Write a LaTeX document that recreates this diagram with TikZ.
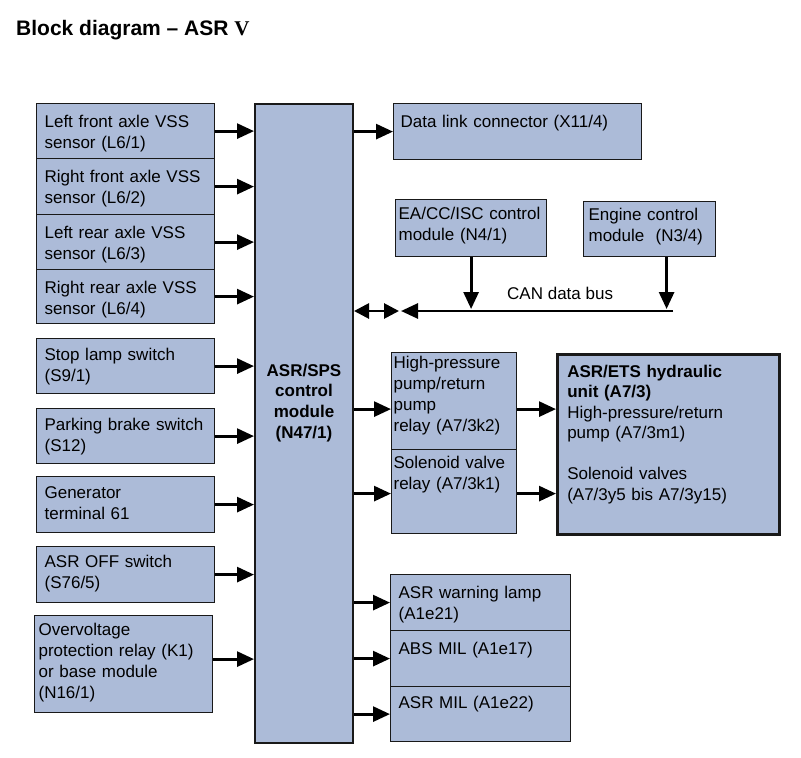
\documentclass[tikz,border=0pt]{standalone}
\usepackage{fontspec}
\setmainfont{Liberation Sans}
\newfontfamily\numeralfont{Liberation Serif}
\usetikzlibrary{arrows.meta,calc}
\definecolor{boxblue}{RGB}{172,187,216}

\begin{document}
\begin{tikzpicture}[x=1pt,y=1pt,yscale=-1,xscale=1,
  blk/.style={draw=black!90, fill=boxblue, line width=1.2pt, anchor=north west, align=left,
    inner ysep=0pt, inner xsep=8pt, font=\fontsize{17}{21}\selectfont},
  arr/.style={-{Triangle[length=17pt,width=15pt]}, line width=2.8pt},
  dblarr/.style={{Triangle[length=15pt,width=15pt]}-{Triangle[length=15pt,width=15pt]}, line width=2.8pt}]
\useasboundingbox (0,0) rectangle (801,758);

% Text Node
\node[anchor=base west, inner sep=0pt, font=\fontsize{21}{24}\selectfont\bfseries] (title) at (16,35)
  {Block diagram -- ASR {\numeralfont V}};

%Shape: Rectangle (control module)
\node[blk, line width=2pt, inner xsep=0pt, align=center, font=\fontsize{17}{20.7}\selectfont\bfseries,
  text width=98pt, text height=272pt, text depth=367pt] (ctrl) at (254,103) {ASR/SPS\\control\\module\\(N47/1)};

%Shape: Rectangle (inputs)
\node[blk, text width=162pt, text height=24pt, text depth=31pt] (lfvss) at (36,103) {Left front axle VSS\\sensor (L6/1)};
\node[blk, text width=162pt, text height=24pt, text depth=32pt] (rfvss) at (36,158) {Right front axle VSS\\sensor (L6/2)};
\node[blk, text width=162pt, text height=24pt, text depth=31pt] (lrvss) at (36,214) {Left rear axle VSS\\sensor (L6/3)};
\node[blk, text width=162pt, text height=24pt, text depth=30pt] (rrvss) at (36,269) {Right rear axle VSS\\sensor (L6/4)};
\node[blk, text width=162pt, text height=22pt, text depth=33pt] (stoplamp) at (36,338) {Stop lamp switch\\(S9/1)};
\node[blk, text width=162pt, text height=22pt, text depth=33pt] (parkbrake) at (36,408) {Parking brake switch\\(S12)};
\node[blk, text width=162pt, text height=22pt, text depth=34pt] (generator) at (36,476) {Generator\\terminal 61};
\node[blk, text width=162pt, text height=21pt, text depth=35pt] (asroff) at (36,546) {ASR OFF switch\\(S76/5)};
\node[blk, inner xsep=4pt, text width=170pt, text height=20pt, text depth=77pt] (ovprelay) at (34,615)
  {Overvoltage\\protection relay (K1)\\or base module\\(N16/1)};

%Shape: Rectangle (outputs)
\node[blk, inner xsep=7pt, text width=234pt, text height=24pt, text depth=32pt] (datalink) at (393,103) {Data link connector (X11/4)};
\node[blk, inner xsep=3pt, text width=145pt, text height=20pt, text depth=37pt] (eacc) at (395,199) {EA/CC/ISC control\\module (N4/1)};
\node[blk, inner xsep=5pt, text width=122pt, text height=19pt, text depth=36pt] (engine) at (583,201) {Engine control\\module\ \ (N3/4)};
\node[blk, inner xsep=2pt, text width=121pt, text height=16pt, text depth=81pt] (pumprelay) at (391,352)
  {High-pressure\\pump/return\\pump\\relay (A7/3k2)};
\node[blk, inner xsep=2pt, text width=121pt, text height=19pt, text depth=65pt] (valverelay) at (391,449)
  {Solenoid valve\\relay (A7/3k1)};
\node[blk, line width=2.5pt, inner xsep=10pt, text width=202pt, text height=23pt, text depth=157pt,
  font=\fontsize{17}{20.5}\selectfont] (hydunit) at (556,353)
  {\textbf{ASR/ETS hydraulic}\\\textbf{unit (A7/3)}\\High-pressure/return\\pump (A7/3m1)\\[20.5pt]Solenoid valves\\(A7/3y5 bis A7/3y15)};
\node[blk, text width=164pt, text height=24pt, text depth=32pt] (warnlamp) at (390,574) {ASR warning lamp\\(A1e21)};
\node[blk, text width=164pt, text height=24pt, text depth=32pt] (absmil) at (390,630) {ABS MIL (A1e17)};
\node[blk, text width=164pt, text height=22pt, text depth=33pt] (asrmil) at (390,686) {ASR MIL (A1e22)};

%Straight Lines (inputs)
\foreach \src in {lfvss,rfvss,lrvss,rrvss,stoplamp,parkbrake,generator,asroff}
  \draw[arr] (\src.east) -- (\src.east -| ctrl.west);
\draw[arr] ($(ovprelay.east)+(0,-5)$) -- ($(ovprelay.east -| ctrl.west)+(0,-5)$);

%Straight Lines (outputs)
\foreach \dst in {datalink,warnlamp,absmil,asrmil}
  \draw[arr] (ctrl.east |- \dst.west) -- (\dst.west);
\draw[arr] ($(ctrl.east |- pumprelay.west)+(0,8)$) -- ($(pumprelay.west)+(0,8)$);
\draw[arr] ($(ctrl.east |- valverelay.west)+(0,2)$) -- ($(valverelay.west)+(0,2)$);
\draw[arr] ($(pumprelay.east)+(0,8)$) -- ($(pumprelay.east -| hydunit.west)+(0,8)$);
\draw[arr] ($(valverelay.east)+(0,2)$) -- ($(valverelay.east -| hydunit.west)+(0,2)$);

%Straight Lines (CAN data bus)
\coordinate (busR) at (673,311);
\coordinate (busL) at (401,311);
\draw[arr] (busR) -- (busL);
\draw[dblarr] (ctrl.east |- busL) -- ($(busL)+(-2,0)$);
\draw[arr] (eacc.south) -- ($(eacc.south |- busL)+(0,-2)$);
\draw[arr] ($(engine.south)+(17,0)$) -- ($(engine.south |- busL)+(17,-2)$);

% Text Node
\node[anchor=base west, inner sep=0pt, font=\fontsize{17}{21}\selectfont] (canlabel) at (507,299) {CAN data bus};

\end{tikzpicture}
\end{document}
